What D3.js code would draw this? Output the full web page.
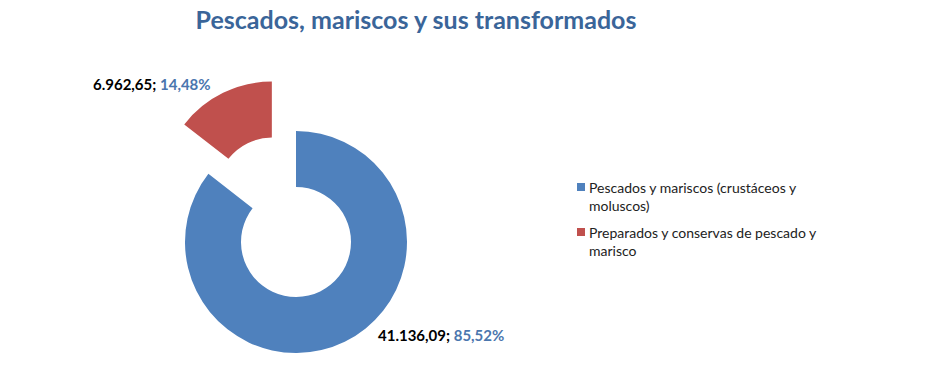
<!DOCTYPE html>
<html>
<head>
<meta charset="utf-8">
<script src="https://cdn.jsdelivr.net/npm/d3@7"></script>
<style>
  body { margin: 0; background: #fff; }
  svg { font-family: Lato, "Open Sans", sans-serif; }
</style>
</head>
<body>
<div id="chart"></div>
<script>
const categories = ["Pescados y mariscos (crustáceos y moluscos)", "Preparados y conservas de pescado y marisco"];
const legendLines = [["Pescados y mariscos (crustáceos y", "moluscos)"], ["Preparados y conservas de pescado y", "marisco"]];
const values = [41136.09, 6962.65];
const valueLabels = ["41.136,09", "6.962,65"];
const colors = ["#4F81BD", "#C0504D"];
const explode = [0, 55];

const width = 942, height = 366;
const cx = 296, cy = 242, outerR = 111, innerR = 55;

const svg = d3.select("#chart").append("svg")
    .attr("width", width)
    .attr("height", height);

svg.append("text")
    .attr("x", 416)
    .attr("y", 29)
    .attr("text-anchor", "middle")
    .attr("fill", "#3A6599")
    .style("font-size", "25px")
    .style("font-weight", "bold")
    .text("Pescados, mariscos y sus transformados");

const total = d3.sum(values);
const pie = d3.pie().sort(null).value(d => d);
const arcs = pie(values);
const arc = d3.arc().innerRadius(innerR).outerRadius(outerR);

const g = svg.append("g").attr("transform", `translate(${cx},${cy})`);

g.selectAll("path")
    .data(arcs)
    .enter()
    .append("path")
    .attr("d", arc)
    .attr("fill", (d, i) => colors[i])
    .attr("transform", (d, i) => {
        const mid = (d.startAngle + d.endAngle) / 2;
        return `translate(${Math.sin(mid) * explode[i]},${-Math.cos(mid) * explode[i]})`;
    });

// data labels
const fmtPct = v => (v * 100).toFixed(2).replace(".", ",") + "%";
const labelPos = [[378, 341], [93, 90]];
arcs.forEach((d, i) => {
    const t = svg.append("text")
        .attr("x", labelPos[i][0])
        .attr("y", labelPos[i][1])
        .style("font-size", "15px")
        .style("font-weight", "bold");
    t.append("tspan").attr("fill", "#000").text(valueLabels[i] + "; ");
    t.append("tspan").attr("fill", "#4A76AE").text(fmtPct(values[i] / total));
});

// legend
const legend = svg.append("g").attr("transform", "translate(577,183)");
legendLines.forEach((lines, i) => {
    const y0 = i * 45;
    legend.append("rect")
        .attr("x", 0)
        .attr("y", y0)
        .attr("width", 8)
        .attr("height", 8)
        .attr("fill", colors[i]);
    lines.forEach((ln, j) => {
        legend.append("text")
            .attr("x", 12)
            .attr("y", y0 + 10 + j * 18)
            .attr("fill", "#222")
            .style("font-size", "14px")
            .text(ln);
    });
});
</script>
</body>
</html>
